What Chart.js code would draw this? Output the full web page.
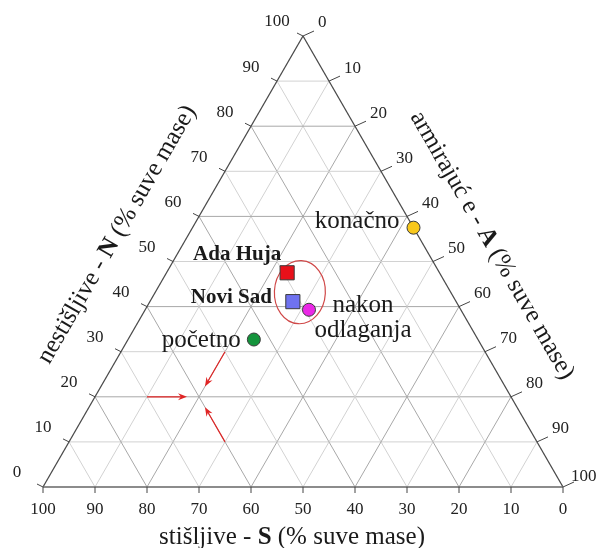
<!DOCTYPE html>
<html>
<head>
<meta charset="utf-8">
<script src="https://cdn.jsdelivr.net/npm/chart.js@4.4.1/dist/chart.umd.min.js"></script>
<style>
  html, body { margin: 0; padding: 0; background: #fff; }
  #wrap { width: 597px; height: 548px; }
</style>
</head>
<body>
<div id="wrap"><canvas id="ternary"></canvas></div>
<script>
// ternary axes: S (stišljive), N (nestišljive), A (armirajuće), all in % suve mase
const tickValues = [0, 10, 20, 30, 40, 50, 60, 70, 80, 90, 100];

const sampleNames = ['Ada Huja', 'Novi Sad', 'nakon odlaganja', 'početno', 'konačno'];
const stisljive   = [29.3, 31.4, 29.2, 43.1, 0];
const nestisljive = [47.5, 41.1, 39.3, 32.7, 57.5];
const armirajuce  = [23.2, 27.5, 31.5, 24.2, 42.5];

// red ring around the three middle samples (centre S, N, A and half-axes)
const ringCenter = [29, 43.2, 27.8];
const ringRadii = [4.9, 7.0];

// red arrows pointing to one grid node
const arrowStart = [[70, 20, 10], [50, 30, 20], [60, 10, 30]];
const arrowEnd = [60, 20, 20];

// styles
const pointColors = ['#e8101a', '#6f72f0', '#ea28e6', '#14943c', '#f8c81c'];
const pointShapes = ['rect', 'rect', 'circle', 'circle', 'circle'];
const pointSizes = [10, 10, 6.5, 6.5, 6.5];
const SERIF = '"Liberation Serif", "Times New Roman", serif';

function toXY(s, n, a) {
    const t = s + n + a;
    return { x: (a + n / 2) * 100 / t, y: n * 100 / t };
}

const points = sampleNames.map((name, i) => toXY(stisljive[i], nestisljive[i], armirajuce[i]));

// draws text made of normal and bold pieces, centred on (0,0)
function drawParts(ctx, parts, size) {
    const fonts = parts.map(p => (p.bold ? 'bold ' : '') + size + 'px ' + SERIF);
    let total = 0;
    const widths = parts.map((p, i) => { ctx.font = fonts[i]; const w = ctx.measureText(p.text).width; total += w; return w; });
    let cx = -total / 2;
    ctx.textAlign = 'left';
    parts.forEach((p, i) => {
        ctx.font = fonts[i];
        ctx.fillText(p.text, cx, 0);
        cx += widths[i];
    });
}

const ternaryPlugin = {
    id: 'ternary',
    beforeDatasetsDraw(chart) {
        const { ctx, scales: { x, y } } = chart;
        const px = (s, n, a) => {
            const p = toXY(s, n, a);
            return [x.getPixelForValue(p.x), y.getPixelForValue(p.y)];
        };
        const line = (p, q) => {
            ctx.beginPath();
            ctx.moveTo(p[0], p[1]);
            ctx.lineTo(q[0], q[1]);
            ctx.stroke();
        };
        ctx.save();

        // grid
        tickValues.slice(1, -1).forEach(v => {
            ctx.strokeStyle = v % 20 === 0 ? '#a8a8a8' : '#d2d2d2';
            ctx.lineWidth = 1;
            line(px(100 - v, v, 0), px(0, v, 100 - v));
            line(px(v, 0, 100 - v), px(v, 100 - v, 0));
            line(px(100 - v, 0, v), px(0, 100 - v, v));
        });

        // triangle edges
        const bl = px(100, 0, 0), br = px(0, 0, 100), top = px(0, 100, 0);
        ctx.lineWidth = 1.3;
        ctx.strokeStyle = '#4a4a4a';
        line(bl, top);
        line(top, br);
        ctx.strokeStyle = '#666';
        ctx.lineWidth = 1.6;
        line(bl, br);

        // ticks and tick labels
        ctx.lineWidth = 1;
        ctx.strokeStyle = '#444';
        ctx.fillStyle = '#222';
        ctx.font = '17px ' + SERIF;
        ctx.textBaseline = 'middle';
        tickValues.forEach(v => {
            // N on the left edge
            let p = px(100 - v, v, 0);
            line(p, [p[0] - 6, p[1] - 3]);
            ctx.textAlign = 'center';
            ctx.fillText(String(v), p[0] - 26, p[1] - 14);
            // A on the right edge
            p = px(0, 100 - v, v);
            line(p, [p[0] + 11, p[1] - 5]);
            ctx.textAlign = 'left';
            ctx.fillText(String(v), p[0] + (v === 100 ? 8 : 15), p[1] - (v === 100 ? 10 : 13));
            // S on the bottom edge
            p = px(v, 0, 100 - v);
            line(p, [p[0], p[1] + 6]);
            ctx.textAlign = 'center';
            ctx.fillText(String(v), p[0], p[1] + 23);
        });

        // axis titles
        ctx.fillStyle = '#1a1a1a';
        ctx.textBaseline = 'alphabetic';
        ctx.save();
        ctx.translate((bl[0] + br[0]) / 2 - 11, bl[1] + 57);
        drawParts(ctx, [{ text: 'stišljive - ' }, { text: 'S', bold: true }, { text: ' (% suve mase)' }], 25);
        ctx.restore();

        ctx.textBaseline = 'middle';
        ctx.save();
        ctx.translate((bl[0] + top[0]) / 2 - 56, (bl[1] + top[1]) / 2 - 27);
        ctx.rotate(-Math.PI / 3);
        drawParts(ctx, [{ text: 'nestišljive - ' }, { text: 'N', bold: true }, { text: ' (% suve mase)' }], 25);
        ctx.restore();

        ctx.save();
        ctx.translate((br[0] + top[0]) / 2 + 59, (br[1] + top[1]) / 2 - 16);
        ctx.rotate(Math.PI / 3);
        drawParts(ctx, [{ text: 'armirajuć e - ' }, { text: 'A', bold: true }, { text: ' (% suve mase)' }], 25);
        ctx.restore();

        // arrows
        ctx.strokeStyle = '#e02424';
        ctx.fillStyle = '#e02424';
        ctx.lineWidth = 1.2;
        const tipTarget = px(arrowEnd[0], arrowEnd[1], arrowEnd[2]);
        arrowStart.forEach(s => {
            const from = px(s[0], s[1], s[2]);
            const dx = tipTarget[0] - from[0], dy = tipTarget[1] - from[1];
            const len = Math.hypot(dx, dy);
            const ux = dx / len, uy = dy / len;
            const tip = [tipTarget[0] - ux * 12, tipTarget[1] - uy * 12];
            line(from, [tip[0] - ux * 5, tip[1] - uy * 5]);
            ctx.beginPath();
            ctx.moveTo(tip[0], tip[1]);
            ctx.lineTo(tip[0] - ux * 9 - uy * 3.5, tip[1] - uy * 9 + ux * 3.5);
            ctx.lineTo(tip[0] - ux * 6, tip[1] - uy * 6);
            ctx.lineTo(tip[0] - ux * 9 + uy * 3.5, tip[1] - uy * 9 - ux * 3.5);
            ctx.closePath();
            ctx.fill();
        });

        // ring
        const c = toXY(ringCenter[0], ringCenter[1], ringCenter[2]);
        const cx = x.getPixelForValue(c.x), cy = y.getPixelForValue(c.y);
        const rx = Math.abs(x.getPixelForValue(c.x + ringRadii[0]) - cx);
        const ry = Math.abs(y.getPixelForValue(c.y + ringRadii[1]) - cy);
        ctx.strokeStyle = '#d04848';
        ctx.lineWidth = 1.2;
        ctx.beginPath();
        ctx.ellipse(cx, cy, rx, ry, 0.05, 0, Math.PI * 2);
        ctx.stroke();

        ctx.restore();
    },
    afterDatasetsDraw(chart) {
        const { ctx, scales: { x, y } } = chart;
        const at = i => [x.getPixelForValue(points[i].x), y.getPixelForValue(points[i].y)];
        ctx.save();
        ctx.fillStyle = '#1a1a1a';
        ctx.textBaseline = 'alphabetic';

        ctx.font = 'bold 21px ' + SERIF;
        ctx.textAlign = 'right';
        let p = at(0);
        ctx.fillText(sampleNames[0], p[0] - 6, p[1] - 13);
        p = at(1);
        ctx.fillText(sampleNames[1], p[0] - 21, p[1] + 1);

        ctx.font = '25px ' + SERIF;
        p = at(3);
        ctx.fillText(sampleNames[3], p[0] - 13, p[1] + 7);
        p = at(4);
        ctx.fillText(sampleNames[4], p[0] - 14, p[1]);

        ctx.textAlign = 'center';
        p = at(2);
        const words = sampleNames[2].split(' ');
        ctx.fillText(words[0], p[0] + 54, p[1] + 2);
        ctx.fillText(words[1], p[0] + 54, p[1] + 27);
        ctx.restore();
    }
};

new Chart(document.getElementById('ternary'), {
    type: 'scatter',
    data: {
        datasets: [{
            label: 'uzorci',
            data: points,
            pointStyle: pointShapes,
            pointRadius: pointSizes,
            pointHoverRadius: pointSizes,
            backgroundColor: pointColors,
            borderColor: '#3a3a3a',
            borderWidth: 1,
            clip: false
        }]
    },
    options: {
        responsive: true,
        maintainAspectRatio: false,
        animation: false,
        layout: {
            padding: { left: 43, right: 34, top: 36, bottom: 61 }
        },
        plugins: {
            legend: { display: false },
            tooltip: { enabled: false }
        },
        scales: {
            x: { type: 'linear', min: 0, max: 100, display: false },
            y: { type: 'linear', min: 0, max: 100, display: false }
        }
    },
    plugins: [ternaryPlugin]
});
</script>
</body>
</html>
